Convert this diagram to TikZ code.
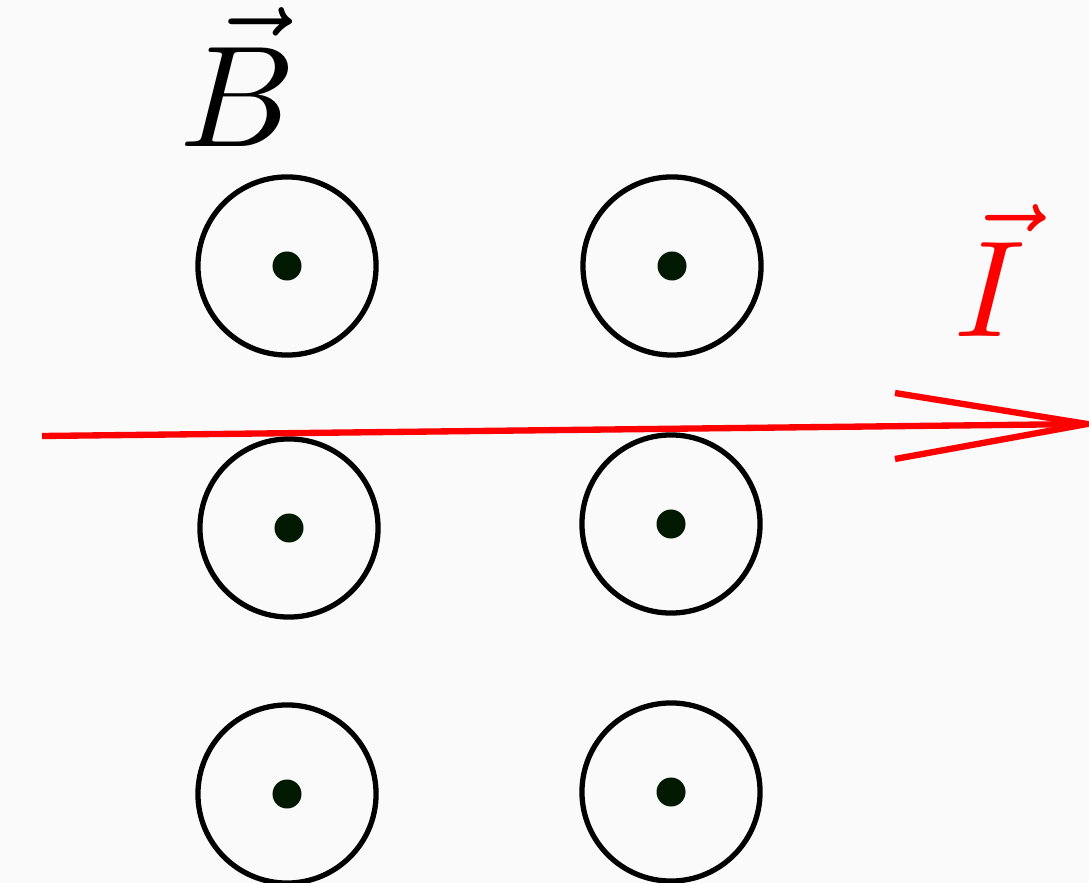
\documentclass[tikz,border=0pt]{standalone}
\begin{document}
\begin{tikzpicture}[x=0.01cm,y=-0.01cm,
  coil/.style={circle,draw=black,line width=1.5pt,minimum size=1.78cm,inner sep=0pt},
  dotc/.style={circle,fill=black!90!green,minimum size=0.29cm,inner sep=0pt},
  cur/.style={draw=red,line width=1.8pt}]
\fill[white!98!black] (0,0) rectangle (1089,883);
\useasboundingbox (0,0) rectangle (1089,883);
\foreach \n/\x/\y in {a/287/266,b/672/266,c/289/528,d/671/524,e/287/794,f/671/792}{
  \node[coil] (\n) at (\x,\y) {};
  \node[dotc] (\n d) at (\x,\y) {};
}
\coordinate (s) at (42,436);
\coordinate (t) at (1087,424);
\coordinate (u) at (895,393);
\coordinate (l) at (895,459);
\draw[cur] (s) -- (t);
\draw[cur] (u) -- (t) -- (l);
\node[anchor=base,inner sep=0pt,scale=4.1] (B) at (238,147) {$\vec{B}$};
\node[anchor=base,inner sep=0pt,text=red,scale=3.9] (I) at (990,337) {$\vec{I}$};
\end{tikzpicture}
\end{document}
